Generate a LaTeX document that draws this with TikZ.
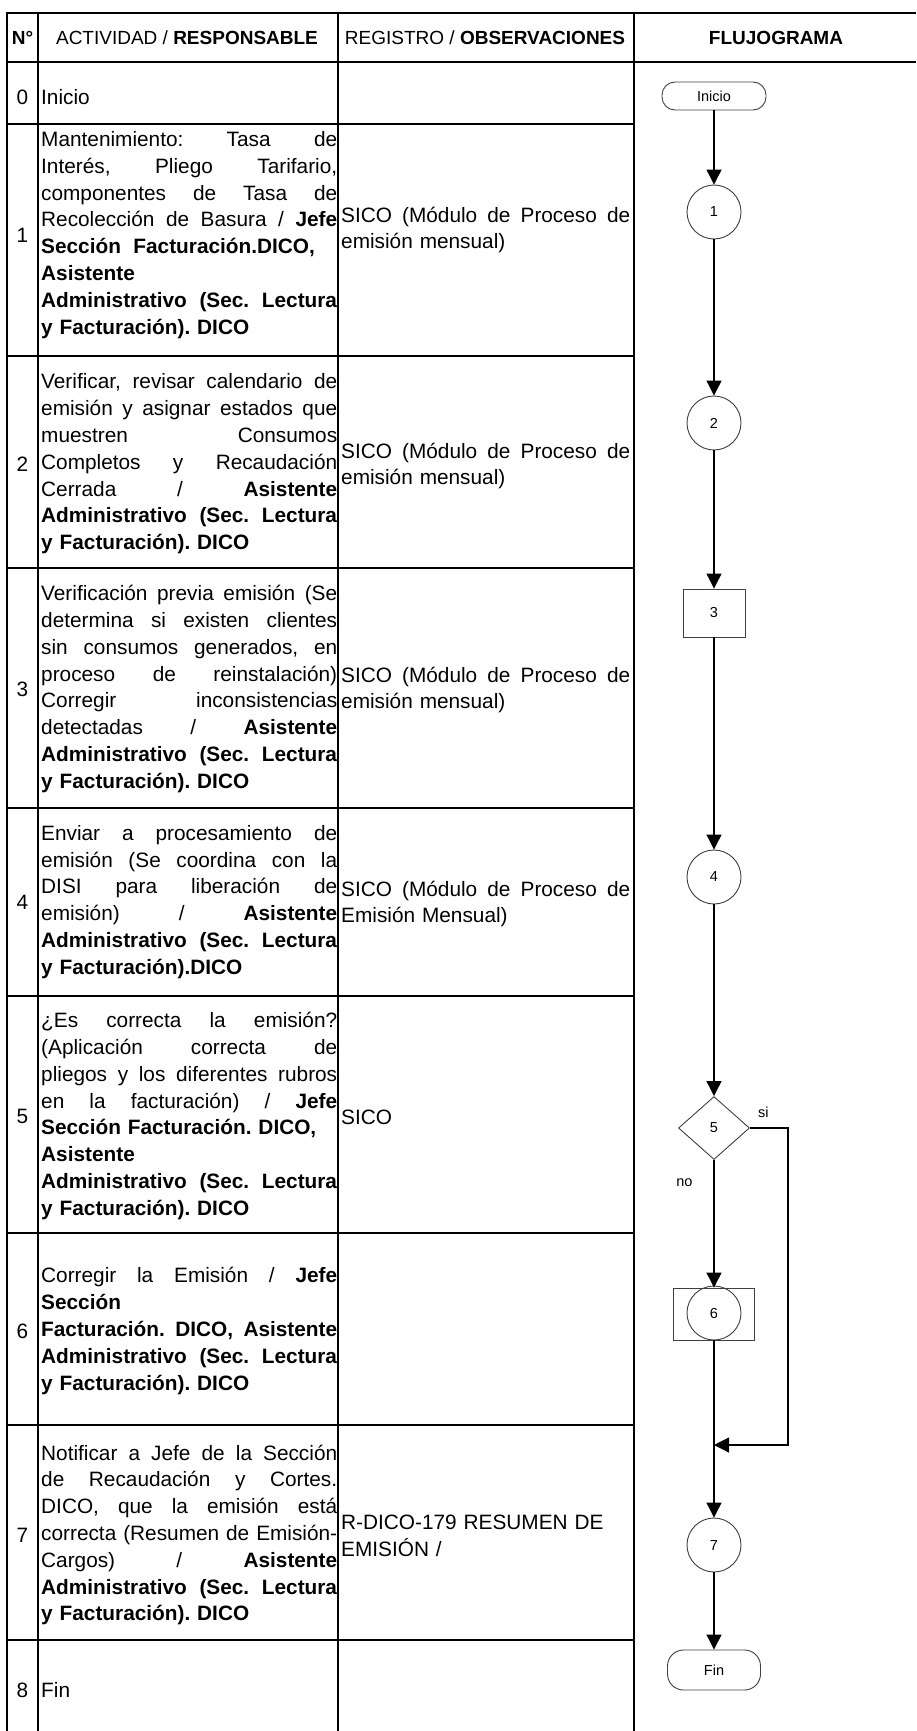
\documentclass[tikz,border=0pt]{standalone}
\usepackage{fontspec}
\setmainfont{Liberation Sans}
\newfontfamily\cabfont{Liberation Sans}
\usetikzlibrary{arrows.meta,shapes.geometric}
\setlength{\parindent}{0pt}
\frenchspacing
\newcommand{\FtCuerpo}{\fontsize{20.8}{26.8}\selectfont\frenchspacing}
\newcommand{\FtCab}{\cabfont\fontsize{19}{22}\selectfont}
\newcommand{\FtFlujo}{\cabfont\fontsize{14.5}{16}\selectfont}
\newcommand{\Jus}[1]{\makebox[\hsize][s]{\spaceskip=0.28em plus 1fil\xspaceskip=0.28em plus 1fil\relax #1}}
\newcommand{\AdmLec}{\Jus{\textbf{Administrativo (Sec. Lectura}}}
\newcommand{\YFact}{\textbf{y Facturación). DICO}}
\newcommand{\SicoMod}{\Jus{SICO (Módulo de Proceso de}}

\begin{document}
\begin{tikzpicture}[x=1pt,y=-1pt,
		grueso/.style={line width=2.6pt},
		fino/.style={line width=1.5pt},
		act/.style={anchor=west,inner sep=0pt,text width=296pt,align=left,font=\FtCuerpo},
		reg/.style={anchor=west,inner sep=0pt,text width=289pt,align=left,font=\FtCuerpo},
		num/.style={inner sep=0pt,font=\FtCuerpo},
		cab/.style={inner sep=0pt,font=\FtCab},
		etq/.style={inner sep=0pt,font=\FtFlujo},
		forma/.style={draw=black!75,line width=0.9pt,inner sep=0pt,font=\FtFlujo},
		terminal/.style={forma,rounded corners=13pt},
		conector/.style={forma,circle,minimum size=54pt},
		proceso/.style={forma,rectangle,minimum width=62pt,minimum height=48pt},
		decision/.style={forma,diamond,minimum width=71pt,minimum height=63pt},
		flecha/.style={line width=1.1pt,-{Triangle[length=15pt,width=15pt]}},
		linea/.style={line width=1.1pt}]
			\useasboundingbox (0,0) rectangle (916,1731);
			\fill[white] (0,0) rectangle (916,1731);
			
			% Rejilla
			\draw[grueso] (5.7,13) -- (916,13);
			\draw[grueso] (7,62) -- (916,62);
			\draw[grueso] (7,13) -- (7,1731);
			\draw[grueso] (634,13) -- (634,1731);
			\draw[grueso] (38,13) -- (38,62);
			\draw[grueso] (338,13) -- (338,62);
			\draw[fino] (38,62) -- (38,1731);
			\draw[fino] (338,62) -- (338,1731);
			\foreach \y in {124,356}
				\draw[grueso] (7,\y) -- (634,\y);
			\foreach \y in {568,808,996,1233,1425,1640}
				\draw[fino] (7,\y) -- (634,\y);
			
			% Cabecera
			\node[cab] (hN) at (22.5,38) {\textbf{N°}};
			\node[cab] (hA) at (187,38) {ACTIVIDAD / \textbf{RESPONSABLE}};
			\node[cab] (hR) at (485,38) {REGISTRO / \textbf{OBSERVACIONES}};
			\node[cab] (hF) at (776,38) {\textbf{FLUJOGRAMA}};
			
			% Numeros
			\foreach \n/\y in {0/97,1/235,2/464,3/689,4/902,5/1116,6/1331,7/1535,8/1690}
				\node[num] (n\n) at (22.5,\y) {\n};
			
			% Actividad / responsable
			\node[act] (a0) at (41,97) {Inicio};
			\node[act] (a1) at (41,235) {\Jus{Mantenimiento: Tasa de}\\
				\Jus{Interés, Pliego Tarifario,}\\
				\Jus{componentes de Tasa de}\\
				\Jus{Recolección de Basura / \textbf{Jefe}}\\
				\textbf{Sección\hspace{0.6em}Facturación.DICO,}\\
				\textbf{Asistente}\\
				\AdmLec\\
				\YFact};
			\node[act] (a2) at (41,464) {\Jus{Verificar, revisar calendario de}\\
				\Jus{emisión y asignar estados que}\\
				\Jus{muestren Consumos}\\
				\Jus{Completos y Recaudación}\\
				\Jus{Cerrada / \textbf{Asistente}}\\
				\AdmLec\\
				\YFact};
			\node[act] (a3) at (41,689) {\Jus{Verificación previa emisión (Se}\\
				\Jus{determina si existen clientes}\\
				\Jus{sin consumos generados, en}\\
				\Jus{proceso de reinstalación)}\\
				\Jus{Corregir inconsistencias}\\
				\Jus{detectadas / \textbf{Asistente}}\\
				\AdmLec\\
				\YFact};
			\node[act] (a4) at (41,902) {\Jus{Enviar a procesamiento de}\\
				\Jus{emisión (Se coordina con la}\\
				\Jus{DISI para liberación de}\\
				\Jus{emisión) / \textbf{Asistente}}\\
				\AdmLec\\
				\textbf{y Facturación).DICO}};
			\node[act] (a5) at (41,1116) {\Jus{¿Es correcta la emisión?}\\
				\Jus{(Aplicación correcta de}\\
				\Jus{pliegos y los diferentes rubros}\\
				\Jus{en la facturación) / \textbf{Jefe}}\\
				\textbf{Sección Facturación. DICO,}\\
				\textbf{Asistente}\\
				\AdmLec\\
				\YFact};
			\node[act] (a6) at (41,1331) {\Jus{Corregir la Emisión / \textbf{Jefe}}\\
				\textbf{Sección}\\
				\Jus{\textbf{Facturación. DICO, Asistente}}\\
				\AdmLec\\
				\YFact};
			\node[act] (a7) at (41,1535) {\Jus{Notificar a Jefe de la Sección}\\
				\Jus{de Recaudación y Cortes.}\\
				\Jus{DICO, que la emisión está}\\
				\Jus{correcta (Resumen de Emisión-}\\
				\Jus{Cargos) / \textbf{Asistente}}\\
				\AdmLec\\
				\YFact};
			\node[act] (a8) at (41,1690) {Fin};
			
			% Registro / observaciones
			\node[reg] (r1) at (341,230) {\SicoMod\\emisión mensual)};
			\node[reg] (r2) at (341,466) {\SicoMod\\emisión mensual)};
			\node[reg] (r3) at (341,690) {\SicoMod\\emisión mensual)};
			\node[reg] (r4) at (341,904) {\SicoMod\\Emisión Mensual)};
			\node[reg] (r5) at (341,1117) {SICO};
			\node[reg] (r7) at (341,1536) {R-DICO-179 RESUMEN DE\\EMISIÓN /};
			
			% Flujograma
			\node[terminal,minimum width=104pt,minimum height=28pt] (ini) at (714,96) {Inicio};
			\node[conector] (c1) at (714,212) {1};
			\node[conector] (c2) at (714,423) {2};
			\node[proceso] (p3) at (714,613) {3};
			\node[conector] (c4) at (714,877) {4};
			\node[decision] (d5) at (714,1128) {5};
			\node[forma,minimum width=81pt,minimum height=52pt] (b6) at (714,1314) {};
			\node[conector] (c6) at (714,1313) {6};
			\node[conector] (c7) at (714,1545) {7};
			\node[terminal,minimum width=93pt,minimum height=40pt,rounded corners=16pt] (fin) at (714,1670) {Fin};
			\coordinate (rt) at (788,1128);
			\coordinate (jn) at (714,1445);
			
			\draw[flecha] (ini) -- (c1);
			\draw[flecha] (c1) -- (c2);
			\draw[flecha] (c2) -- (p3);
			\draw[flecha] (p3) -- (c4);
			\draw[flecha] (c4) -- (d5);
			\draw[flecha] (d5) -- node[etq,pos=0.18,left=21pt] {no} (b6);
			\draw[flecha] (d5.east) -- node[etq,pos=0.35,above=10pt] {si} (rt) |- (jn);
			\draw[flecha] (b6) -- (c7);
			\draw[flecha] (c7) -- (fin);
		\end{tikzpicture}
\end{document}
